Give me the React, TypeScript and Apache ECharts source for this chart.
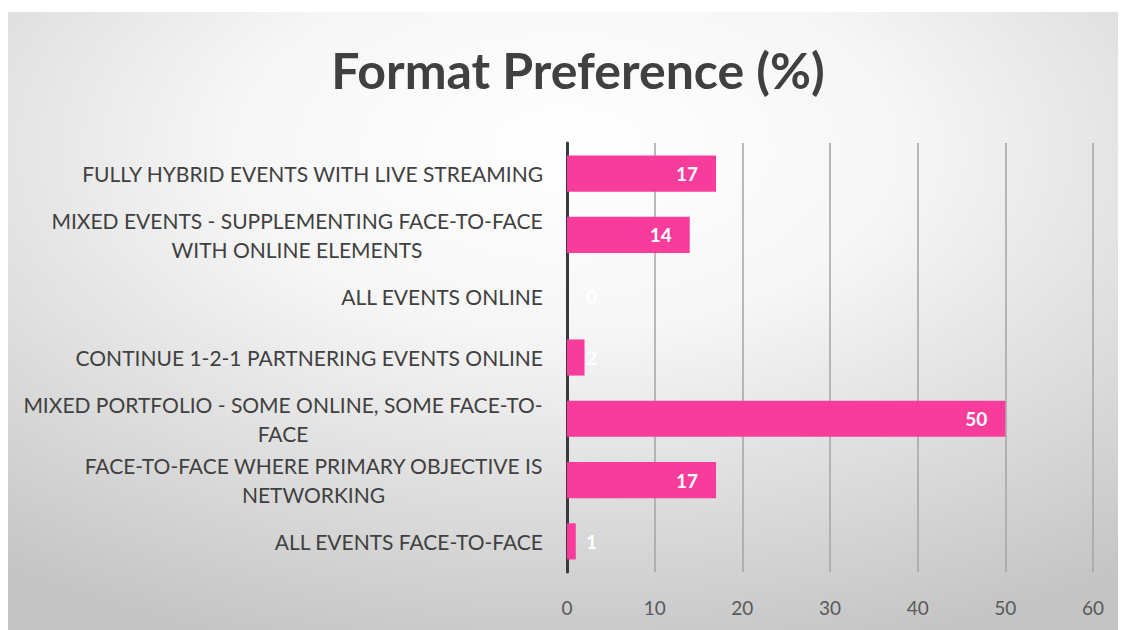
import React, { useEffect, useRef } from "react";
import * as echarts from "echarts";

const title = "Format Preference (%)";
const categories = [
  "FULLY HYBRID EVENTS WITH LIVE STREAMING",
  "MIXED EVENTS - SUPPLEMENTING FACE-TO-FACE\nWITH ONLINE ELEMENTS",
  "ALL EVENTS ONLINE",
  "CONTINUE 1-2-1 PARTNERING EVENTS ONLINE",
  "MIXED PORTFOLIO - SOME ONLINE, SOME FACE-TO-\nFACE",
  "FACE-TO-FACE WHERE PRIMARY OBJECTIVE IS\nNETWORKING",
  "ALL EVENTS FACE-TO-FACE",
];
const values = [17, 14, 0, 2, 50, 17, 1];
const xMin = 0;
const xMax = 60;
const xInterval = 10;

const FONT = "Lato, 'Open Sans', sans-serif";
const CAT_SIZE = 21;

function measure(text: string, size: number): number {
  const c = document.createElement("canvas").getContext("2d");
  if (!c) return text.length * size * 0.6;
  c.font = `${size}px Lato`;
  return Math.ceil(c.measureText(text).width);
}

export default function App() {
  const ref = useRef<HTMLDivElement>(null);
  useEffect(() => {
    if (!ref.current) return;
    const chart = echarts.init(ref.current, undefined, { renderer: "svg" });

    const rich: Record<string, any> = {};
    categories.forEach((c, i) => {
      const lines = c.split("\n");
      const w = Math.max(...lines.map((l) => measure(l, CAT_SIZE)));
      rich["l" + i] = {
        width: w,
        align: "center",
        fontSize: CAT_SIZE,
        fontFamily: FONT,
        color: "#404040",
        lineHeight: 29,
      };
    });

    const data = values.map((v) =>
      v < 5
        ? { value: v, label: { position: "insideLeft", distance: 19 } }
        : { value: v }
    );

    chart.setOption({
      animation: false,
      backgroundColor: {
        type: "radial",
        x: 0.5,
        y: 0.22,
        r: 0.85,
        colorStops: [
          { offset: 0, color: "#ffffff" },
          { offset: 0.35, color: "#f6f6f6" },
          { offset: 1, color: "#c4c4c4" },
        ],
      },
      title: {
        text: title,
        left: 565,
        textAlign: "center",
        top: 28,
        textStyle: {
          fontFamily: FONT,
          fontSize: 50,
          fontWeight: "bold",
          color: "#404040",
        },
      },
      grid: { left: 559, right: 33, top: 131, bottom: 58 },
      xAxis: {
        type: "value",
        min: xMin,
        max: xMax,
        interval: xInterval,
        axisLine: { show: false },
        axisTick: { show: false },
        splitLine: { show: true, lineStyle: { color: "#a3a3a3", width: 1.5 } },
        axisLabel: {
          color: "#595959",
          fontSize: 19,
          fontFamily: FONT,
          margin: 26,
        },
      },
      yAxis: {
        type: "category",
        data: categories,
        inverse: true,
        axisLine: { show: true, lineStyle: { color: "#3a3a3a", width: 3 } },
        axisTick: { show: false },
        axisLabel: {
          margin: 24,
          color: "#404040",
          fontSize: CAT_SIZE,
          fontFamily: FONT,
          lineHeight: 29,
          formatter: (val: string, idx: number) => {
            const lines = val.split("\n");
            if (lines.length === 1) return val;
            return lines.map((l) => `{l${idx}|${l}}`).join("\n");
          },
          rich,
        },
      },
      series: [
        {
          type: "bar",
          data,
          barCategoryGap: "41%",
          itemStyle: { color: "#f73c9b" },
          label: {
            show: true,
            position: "insideRight",
            distance: 18,
            color: "#ffffff",
            fontSize: 19,
            fontWeight: "bold",
            fontFamily: FONT,
          },
        },
      ],
    });
    return () => chart.dispose();
  }, []);
  return <div ref={ref} style={{ width: 1118, height: 618, marginTop: 4 }} />;
}
